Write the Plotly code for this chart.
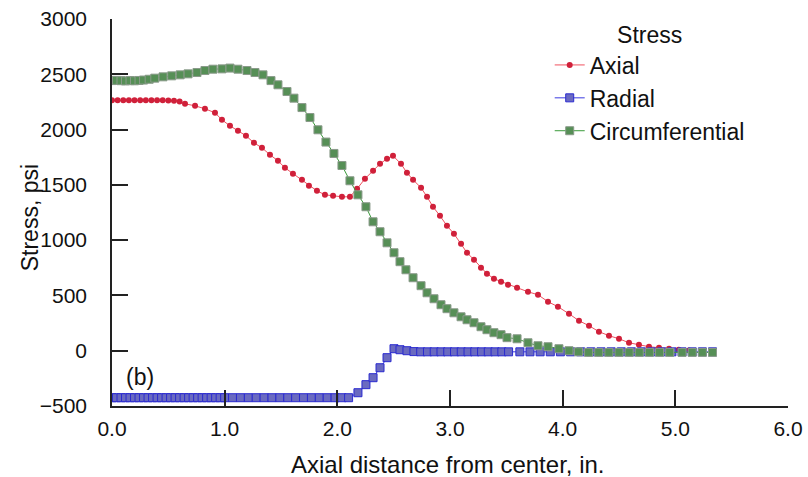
import plotly.graph_objects as go

# ---------------- data ----------------
axial_x = [0.00, 0.05, 0.10, 0.15, 0.20, 0.25, 0.30, 0.35, 0.40, 0.45, 0.50, 0.55, 0.60,
           0.648, 0.737, 0.825, 0.914, 0.976, 1.047, 1.118, 1.189, 1.260, 1.331, 1.402,
           1.473, 1.535, 1.606, 1.686, 1.748, 1.819, 1.890, 1.962, 2.041, 2.112, 2.175,
           2.245, 2.317, 2.379, 2.441, 2.494, 2.565, 2.618, 2.672, 2.743, 2.796, 2.849,
           2.911, 2.973, 3.035, 3.098, 3.151, 3.213, 3.275, 3.328, 3.390, 3.453, 3.515,
           3.595, 3.692, 3.781, 3.870, 3.958, 4.056, 4.145, 4.234, 4.322, 4.411, 4.500,
           4.589, 4.677, 4.766, 4.855, 4.944, 5.03, 5.12]
axial_y = [2265, 2265, 2265, 2265, 2265, 2265, 2265, 2265, 2265, 2265, 2262, 2260, 2255,
           2233, 2215, 2188, 2152, 2088, 2034, 1989, 1944, 1880, 1835, 1772,
           1718, 1654, 1600, 1546, 1492, 1446, 1410, 1401, 1392, 1392, 1464,
           1555, 1627, 1690, 1736, 1763, 1690, 1609, 1546, 1474, 1392, 1302,
           1220, 1130, 1058, 967, 886, 823, 750, 696, 651, 624, 597,
           570, 533, 506, 443, 398, 334, 271, 226, 172, 136, 108,
           72, 54, 36, 27, 18, 8, 3]

radial_x = [0.00, 0.04, 0.08, 0.12, 0.16, 0.20, 0.24, 0.28, 0.32, 0.36, 0.40, 0.44, 0.48,
            0.52, 0.56, 0.60, 0.64, 0.68, 0.72, 0.76, 0.80, 0.84, 0.88, 0.92, 0.96, 1.00,
            1.07, 1.14, 1.21, 1.28, 1.35, 1.42, 1.49, 1.56, 1.63, 1.70, 1.77, 1.84, 1.91,
            1.98, 2.04, 2.10, 2.183, 2.254, 2.317, 2.379, 2.441, 2.503, 2.556, 2.618,
            2.68, 2.74, 2.80, 2.86, 2.92, 2.98, 3.04, 3.10, 3.16, 3.22, 3.28, 3.34, 3.40,
            3.46, 3.52, 3.62, 3.71, 3.80, 3.89, 3.98, 4.07, 4.16, 4.25, 4.34, 4.43, 4.52,
            4.61, 4.70, 4.79, 4.88, 4.97, 5.06, 5.15, 5.24, 5.33]
radial_y = [-425, -425, -425, -425, -425, -425, -425, -425, -425, -425, -425, -425, -425,
            -425, -425, -425, -425, -425, -425, -425, -425, -425, -425, -425, -425, -425,
            -425, -425, -425, -425, -425, -425, -425, -425, -425, -425, -425, -425, -425,
            -425, -425, -425, -380, -307, -244, -154, -63, 18, 9, 0,
            -8, -10, -10, -10, -10, -10, -10, -10, -10, -10, -10, -10, -10,
            -10, -10, -10, -10, -10, -10, -10, -10, -10, -10, -10, -10, -10,
            -10, -10, -10, -10, -10, -10, -10, -10, -10]

circ_x = [0.00, 0.04, 0.08, 0.12, 0.16, 0.20, 0.24, 0.28, 0.33, 0.38, 0.453, 0.53,
          0.605, 0.675, 0.754, 0.825, 0.896, 0.976, 1.047, 1.118, 1.198, 1.269, 1.340,
          1.411, 1.473, 1.553, 1.615, 1.686, 1.757, 1.828, 1.899, 1.970, 2.041, 2.112,
          2.183, 2.254, 2.317, 2.379, 2.441, 2.503, 2.556, 2.609, 2.672, 2.743, 2.796,
          2.858, 2.920, 2.973, 3.035, 3.098, 3.151, 3.213, 3.275, 3.328, 3.390, 3.453,
          3.506, 3.595, 3.692, 3.781, 3.870, 3.967, 4.056, 4.14, 4.23, 4.32, 4.41, 4.50,
          4.59, 4.68, 4.77, 4.86, 4.95, 5.06, 5.15, 5.24, 5.33]
circ_y = [2443, 2445, 2442, 2440, 2443, 2441, 2444, 2448, 2455, 2465, 2477, 2486,
          2495, 2504, 2516, 2534, 2546, 2549, 2556, 2546, 2534, 2516, 2495,
          2443, 2405, 2344, 2284, 2199, 2109, 1998, 1887, 1784, 1675, 1537,
          1410, 1302, 1166, 1076, 976, 886, 805, 732, 660, 588, 524,
          470, 416, 380, 343, 307, 280, 253, 217, 190, 163, 145,
          118, 108, 72, 45, 36, 18, 0, -10, -15, -15, -15, -15,
          -15, -15, -15, -15, -15, -15, -15, -15, -15]

x_ticks = [0, 1, 2, 3, 4, 5, 6]
x_tick_text = ["0.0", "1.0", "2.0", "3.0", "4.0", "5.0", "6.0"]
y_ticks = [-500, 0, 500, 1000, 1500, 2000, 2500, 3000]
y_tick_text = ["\u2212500", "0", "500", "1000", "1500", "2000", "2500", "3000"]

FONT = "Liberation Sans, Arial, sans-serif"
TICK_SIZE = 21
TEXT_SIZE = 23

fig = go.Figure()
fig.add_trace(go.Scatter(
    x=axial_x, y=axial_y, mode="lines+markers", name="Axial",
    line=dict(color="#f0505f", width=1),
    marker=dict(symbol="circle", size=6, color="#d0203a", line=dict(width=0))))
fig.add_trace(go.Scatter(
    x=radial_x, y=radial_y, mode="lines+markers", name="Radial",
    line=dict(color="#3a3ae0", width=1),
    marker=dict(symbol="square", size=8, color="#6a6ac0", line=dict(color="#2a2ad0", width=1))))
fig.add_trace(go.Scatter(
    x=circ_x, y=circ_y, mode="lines+markers", name="Circumferential",
    line=dict(color="#3a9a3a", width=1),
    marker=dict(symbol="square", size=8, color="#568f56", line=dict(color="#8a9a8a", width=1))))

fig.add_annotation(x=0.25, y=-235, xref="x", yref="y", text="(b)", showarrow=False,
                   font=dict(family=FONT, size=TEXT_SIZE, color="#111"))
# axis titles placed as text outside the plot area
fig.add_annotation(x=0.497, y=-0.152, xref="paper", yref="paper", xanchor="center",
                   yanchor="middle", text="Axial distance from center, in.", showarrow=False,
                   font=dict(family=FONT, size=24, color="#111"))
fig.add_annotation(x=-0.1213, y=0.485, xref="paper", yref="paper", xanchor="center",
                   yanchor="middle", text="Stress, psi", textangle=-90, showarrow=False,
                   font=dict(family=FONT, size=TEXT_SIZE, color="#111"))

fig.update_layout(
    width=808, height=477,
    margin=dict(l=112, r=20, t=19, b=71, autoexpand=False),
    paper_bgcolor="white", plot_bgcolor="white",
    font=dict(family=FONT, size=TEXT_SIZE, color="#111"),
    showlegend=True,
    legend=dict(x=0.6475, y=1.014, xanchor="left", yanchor="top",
                bgcolor="rgba(0,0,0,0)",
                title=dict(text="Stress", side="top center",
                           font=dict(family=FONT, size=TEXT_SIZE, color="#111")),
                font=dict(family=FONT, size=TEXT_SIZE, color="#111"),
                tracegroupgap=0, itemwidth=30),
    xaxis=dict(range=[0, 6], tickvals=x_ticks, ticktext=x_tick_text,
               showline=True, linecolor="#222", linewidth=1.5,
               ticks="inside", ticklen=16, tickwidth=1.5, tickcolor="#222",
               showgrid=False, zeroline=False, ticklabelstandoff=3, automargin=False,
               tickfont=dict(family=FONT, size=TICK_SIZE, color="#111")),
    yaxis=dict(range=[-500, 3000], tickvals=y_ticks, ticktext=y_tick_text,
               showline=True, linecolor="#222", linewidth=1.5,
               ticks="inside", ticklen=16, tickwidth=1.5, tickcolor="#222",
               showgrid=False, zeroline=False, ticklabelstandoff=19, automargin=False,
               tickfont=dict(family=FONT, size=TICK_SIZE, color="#111")),
)

fig.write_html("out.html")
